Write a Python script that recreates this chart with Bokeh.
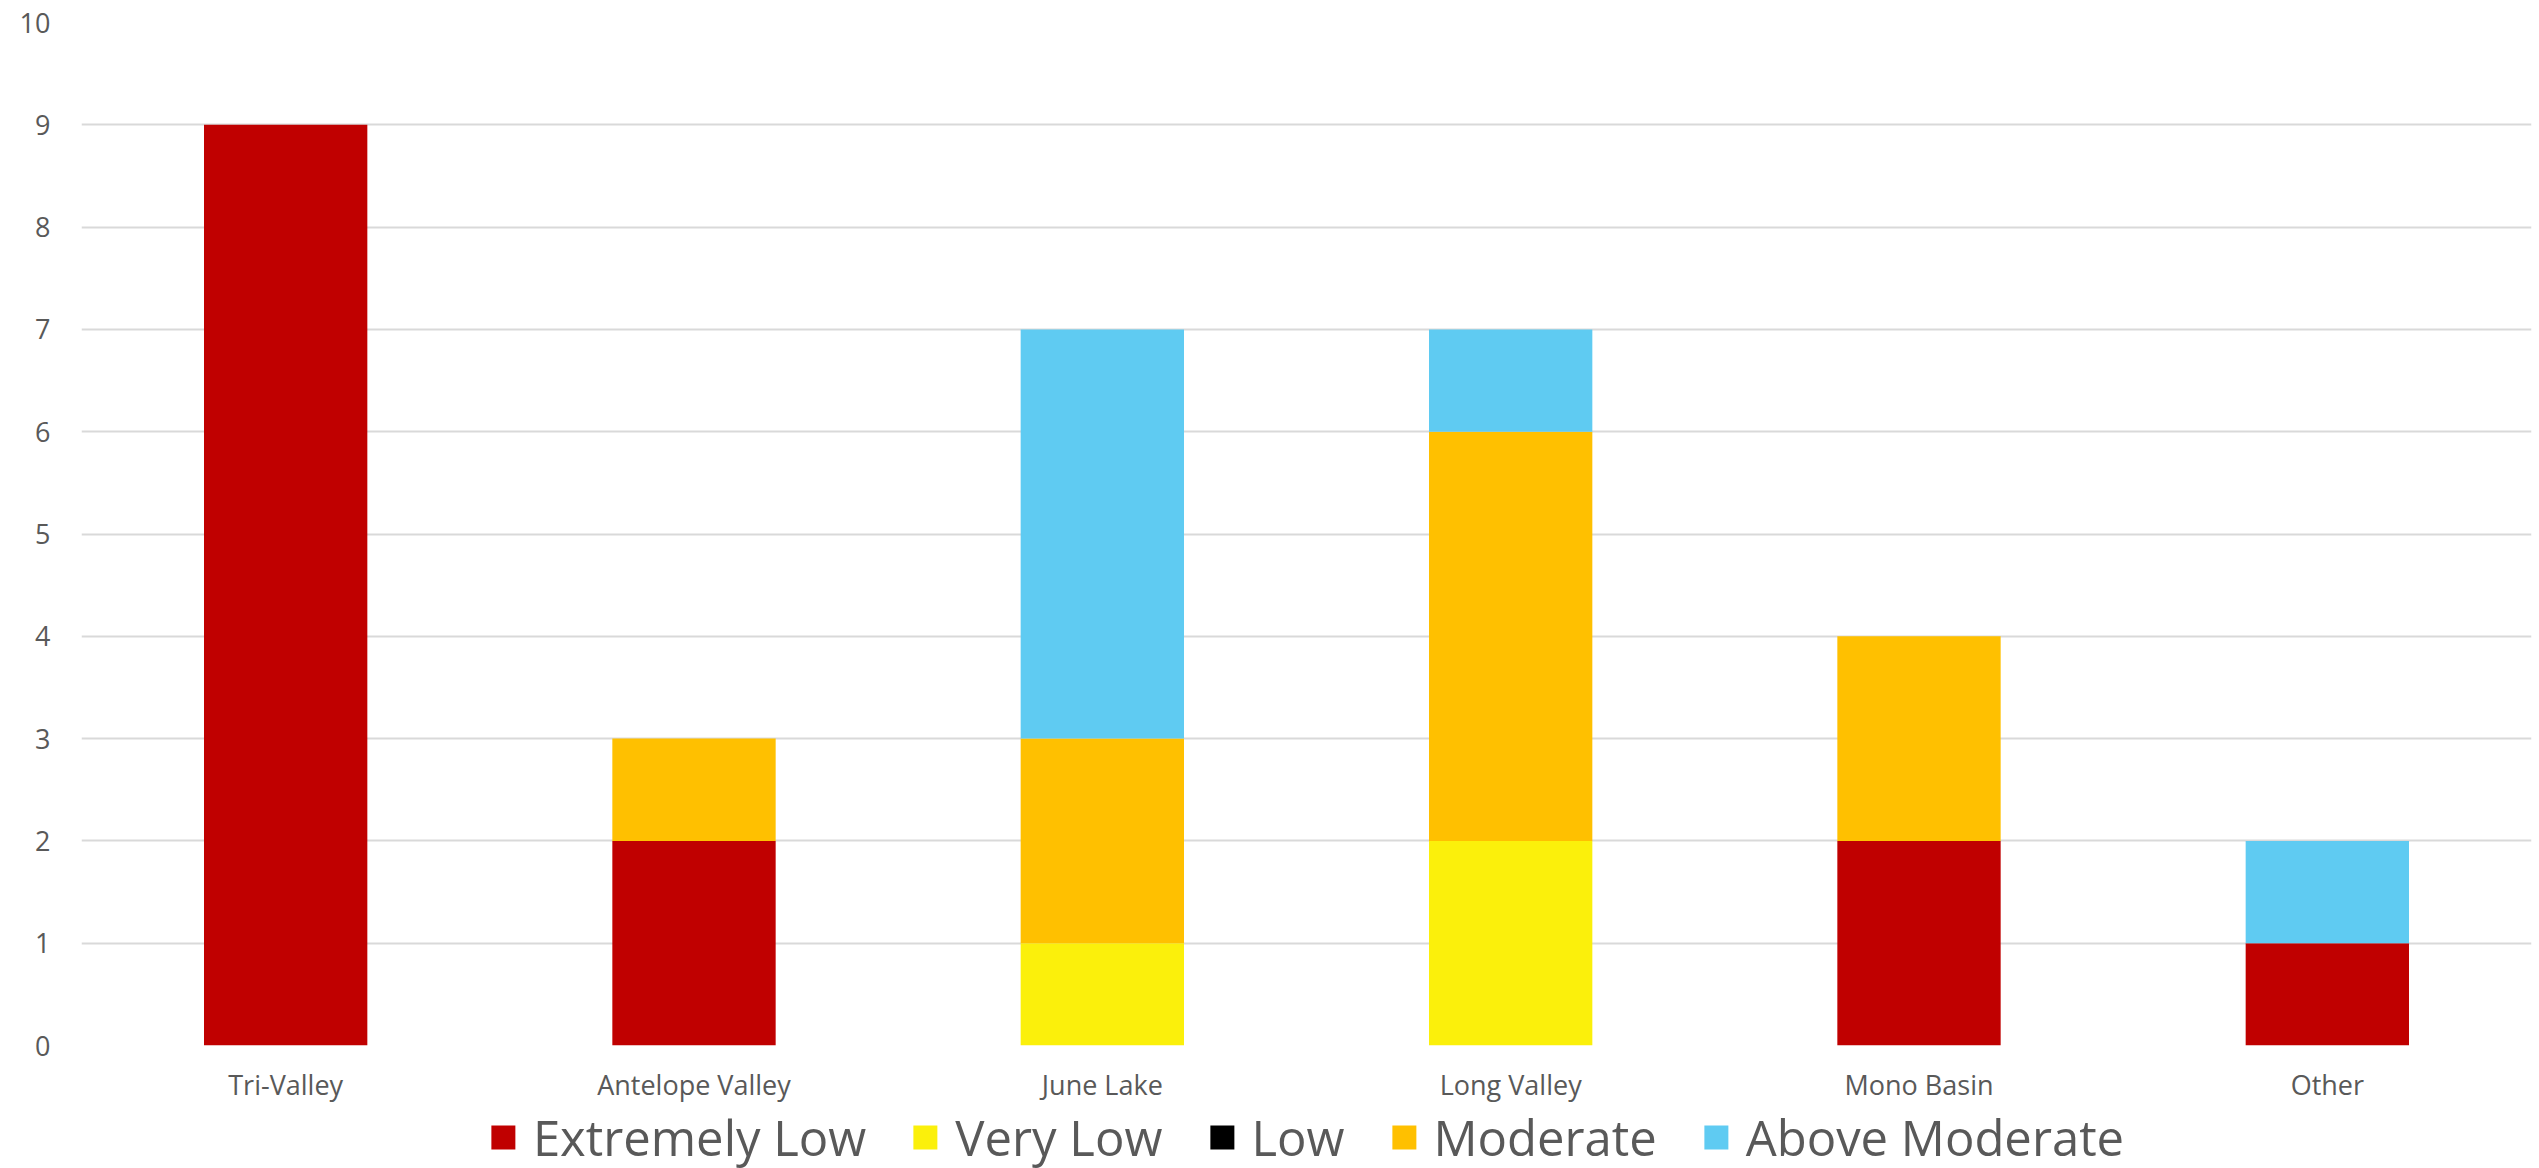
from bokeh.plotting import figure
from bokeh.layouts import column
from bokeh.models import FixedTicker, Legend, LegendItem, ColumnDataSource
from bokeh.embed import file_html
from bokeh.resources import INLINE

categories = ["Tri-Valley", "Antelope Valley", "June Lake", "Long Valley", "Mono Basin", "Other"]
series_names = ["Extremely Low", "Very Low", "Low", "Moderate", "Above Moderate"]
extremely_low = [9, 2, 0, 0, 2, 1]
very_low = [0, 0, 1, 2, 0, 0]
low = [0, 0, 0, 0, 0, 0]
moderate = [0, 1, 2, 4, 2, 0]
above_moderate = [0, 0, 4, 1, 0, 1]
y_ticks = [0, 1, 2, 3, 4, 5, 6, 7, 8, 9, 10]
colors = ["#C00000", "#FBF00B", "#000000", "#FFC000", "#5FCBF2"]

FONT = "Open Sans"
TXT = "#595959"

src = ColumnDataSource(dict(cat=categories, **{
    "Extremely Low": extremely_low, "Very Low": very_low, "Low": low,
    "Moderate": moderate, "Above Moderate": above_moderate}))

W = 2539
LEG_H = 63
p = figure(x_range=categories, y_range=(0, 10), width=W, height=1168 - LEG_H,
           output_backend="svg", toolbar_location=None,
           min_border_left=81, min_border_right=8, min_border_top=22,
           min_border_bottom=1168 - LEG_H - 1045)
p.x_range.range_padding = 0
p.outline_line_color = None
p.background_fill_color = "white"
p.border_fill_color = "white"

p.vbar_stack(series_names, x="cat", width=0.4, source=src, color=colors, line_color=None)

p.xgrid.grid_line_color = None
p.ygrid.grid_line_color = "#D9D9D9"
p.ygrid.grid_line_width = 2
p.yaxis.ticker = FixedTicker(ticks=y_ticks)
for ax in (p.xaxis[0], p.yaxis[0]):
    ax.axis_line_color = None
    ax.major_tick_line_color = None
    ax.minor_tick_line_color = None
    ax.major_tick_out = 0
    ax.major_tick_in = 0
    ax.major_label_text_color = TXT
    ax.major_label_text_font = FONT
p.yaxis.major_label_text_font_size = "27px"
p.yaxis.major_label_standoff = 31
p.xaxis.major_label_text_font_size = "27px"
p.xaxis.major_label_standoff = 20

# legend strip: same stacked series, drawn out of view, used only for legend swatches
leg = figure(x_range=categories, y_range=(100, 101), width=W, height=LEG_H,
             output_backend="svg", toolbar_location=None,
             min_border=0, min_border_left=0, min_border_right=0,
             min_border_top=0, min_border_bottom=0)
leg.axis.visible = False
leg.grid.visible = False
leg.outline_line_color = None
leg.background_fill_color = "white"
leg.border_fill_color = "white"
lrs = leg.vbar_stack(series_names, x="cat", width=0.4, source=src, color=colors, line_color=None)

items = [LegendItem(label=n, renderers=[r]) for n, r in zip(series_names, lrs)]
legend = Legend(items=items, orientation="horizontal", location="center",
                padding=0, margin=0, spacing=44, label_standoff=15,
                glyph_width=30, glyph_height=30, label_height=30,
                label_text_font=FONT, label_text_font_size="49px", label_text_color=TXT,
                border_line_color=None, background_fill_alpha=0)
leg.add_layout(legend, "center")

layout = column(p, leg, spacing=0)
open("out.html", "w").write(file_html(layout, INLINE))
